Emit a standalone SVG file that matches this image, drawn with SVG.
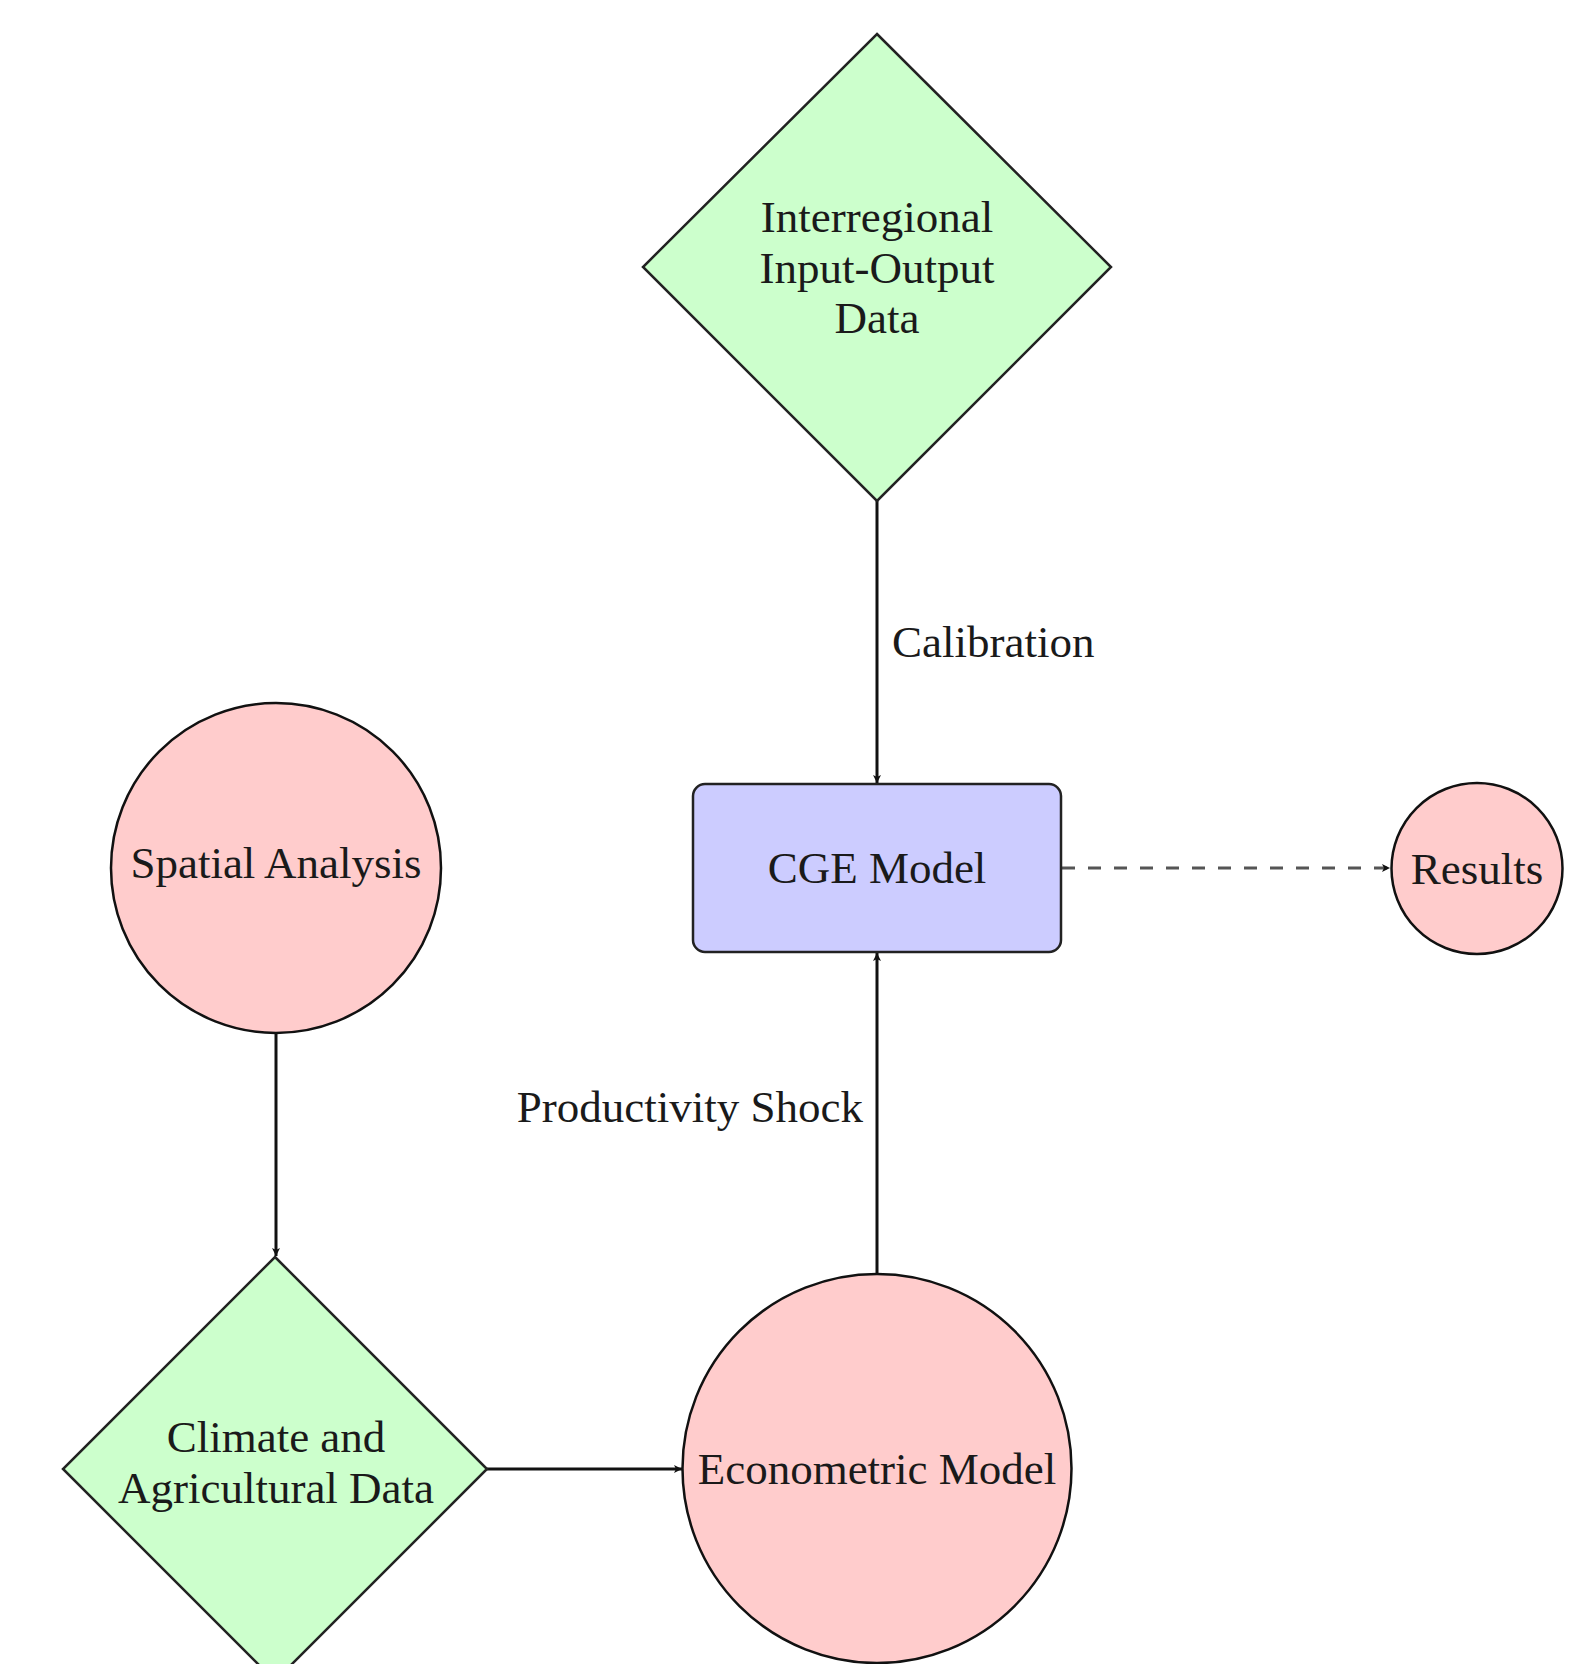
<svg xmlns="http://www.w3.org/2000/svg" width="1584" height="1664" viewBox="0 0 1584 1664">
<style>
.lbl{font-family:"Liberation Serif","Times New Roman",serif;font-size:45px;fill:#1a1a1a}
.mid{text-anchor:middle}
.green{fill:#ccffcc;stroke:#222;stroke-width:2.5}
.pink{fill:#ffcccc;stroke:#111;stroke-width:2.5}
.blue{fill:#ccccff;stroke:#222;stroke-width:2.5}
.edge{stroke:#111;stroke-width:3;fill:none}
.dash{stroke:#555;stroke-width:3;fill:none;stroke-dasharray:13 13}
</style>
<defs>
<marker id="arr" viewBox="0 0 10 10" refX="10" refY="5" markerWidth="9" markerHeight="8" markerUnits="userSpaceOnUse" orient="auto">
<path d="M0,0 L10,5 L0,10 L2.5,5 z" fill="#111"/>
</marker>
</defs>
<rect width="1584" height="1664" fill="#ffffff"/>
<g id="connectors">
<line class="edge" x1="877" y1="501" x2="877" y2="783" marker-end="url(#arr)"/>
<line class="edge" x1="877" y1="1274" x2="877" y2="953" marker-end="url(#arr)"/>
<line class="dash" x1="1062" y1="868" x2="1390" y2="868" marker-end="url(#arr)"/>
<line class="edge" x1="276" y1="1034" x2="276" y2="1256" marker-end="url(#arr)"/>
<line class="edge" x1="487" y1="1469" x2="682" y2="1469" marker-end="url(#arr)"/>
<text class="lbl" x="892" y="657">Calibration</text>
<text class="lbl" x="863" y="1122" text-anchor="end">Productivity Shock</text>
</g>
<g id="io-data">
<polygon class="green" points="877,34 1111,267 877,501 643,267"/>
<text class="lbl mid" x="877" y="232">Interregional</text>
<text class="lbl mid" x="877" y="283">Input-Output</text>
<text class="lbl mid" x="877" y="333">Data</text>
</g>
<g id="cge-model">
<rect class="blue" x="693" y="784" width="368" height="168" rx="12" ry="12"/>
<text class="lbl mid" x="877" y="883">CGE Model</text>
</g>
<g id="results">
<circle class="pink" cx="1477" cy="868.5" r="85.5"/>
<text class="lbl mid" x="1477" y="884">Results</text>
</g>
<g id="spatial-analysis">
<circle class="pink" cx="276" cy="868" r="165"/>
<text class="lbl mid" x="276" y="878">Spatial Analysis</text>
</g>
<g id="climate-data">
<polygon class="green" points="275,1257 487,1469 275,1681 63,1469"/>
<text class="lbl mid" x="276" y="1452">Climate and</text>
<text class="lbl mid" x="276" y="1503">Agricultural Data</text>
</g>
<g id="econometric-model">
<circle class="pink" cx="877" cy="1468.5" r="194.5"/>
<text class="lbl mid" x="877" y="1484">Econometric Model</text>
</g>
</svg>
